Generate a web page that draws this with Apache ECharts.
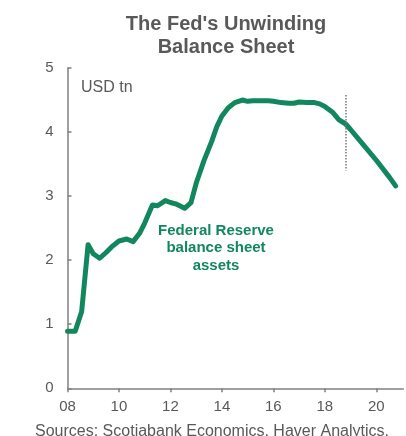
<!DOCTYPE html>
<html><head><meta charset="utf-8">
<script src="https://cdn.jsdelivr.net/npm/echarts@6/dist/echarts.min.js"></script>
<style>html,body{margin:0;padding:0;background:#fff}#c{width:406px;height:436px}</style>
</head><body><div id="c"></div>
<script>
const years = [2008.0,2008.3,2008.55,2008.8,2009.0,2009.25,2009.5,2009.75,2010.0,2010.3,2010.55,2010.8,2011.0,2011.3,2011.5,2011.8,2012.0,2012.2,2012.55,2012.8,2013.0,2013.3,2013.6,2013.8,2014.0,2014.25,2014.5,2014.8,2015.0,2015.2,2015.5,2015.8,2016.0,2016.3,2016.6,2016.8,2017.0,2017.3,2017.6,2017.8,2018.0,2018.3,2018.55,2018.8,2019.0,2019.5,2020.0,2020.5,2020.75];
const assets = [0.89,0.89,1.20,2.24,2.10,2.03,2.12,2.22,2.30,2.33,2.29,2.42,2.58,2.86,2.85,2.93,2.90,2.88,2.81,2.90,3.20,3.55,3.85,4.08,4.25,4.38,4.46,4.50,4.48,4.49,4.49,4.49,4.48,4.46,4.45,4.45,4.47,4.46,4.46,4.44,4.40,4.31,4.19,4.13,4.04,3.80,3.56,3.30,3.16];
const xTicks = [2008,2010,2012,2014,2016,2018,2020];
const yTicks = [0,1,2,3,4,5];
const markerYear = 2018.8;
const markerRange = [4.58, 3.40];

const chart = echarts.init(document.getElementById('c'));
const gray = '#595959';
chart.setOption({
  animation:false,
  textStyle:{fontFamily:'Liberation Sans, Arial, sans-serif'},
  title:[
    {text:"The Fed's Unwinding\nBalance Sheet", left:221, top:8, textAlign:'center',
     textStyle:{fontSize:20, fontWeight:'bold', color:gray, lineHeight:23}},
    {text:'USD tn', left:76, top:75, textStyle:{fontSize:16, fontWeight:'normal', color:gray}},
    {text:'Federal Reserve\nbalance sheet\nassets', left:211, top:217, textAlign:'center',
     textStyle:{fontSize:15, fontWeight:'bold', color:'#12875D', lineHeight:17.5}},
    {text:'Sources: Scotiabank Economics, Haver Analytics.', left:207, top:419, textAlign:'center',
     textStyle:{fontSize:16, fontWeight:'normal', color:gray}}
  ],
  grid:{left:67.5, right:2.7, top:68, bottom:47.7},
  xAxis:{type:'value', min:2008, max:2021.05, interval:2,
    axisLine:{lineStyle:{color:'#808080', width:1.5}},
    axisTick:{show:true, length:4, customValues:xTicks, lineStyle:{color:'#808080', width:1.5}},
    axisLabel:{customValues:xTicks, fontSize:15, color:gray, margin:11,
      formatter:v=>String(Math.round(v)%100).padStart(2,'0')},
    splitLine:{show:false}},
  yAxis:{type:'value', min:0, max:5, interval:1,
    axisLine:{show:true, lineStyle:{color:'#808080', width:1.5}},
    axisTick:{show:true, inside:true, length:4, customValues:yTicks, lineStyle:{color:'#808080', width:1.5}},
    axisLabel:{fontSize:15, color:gray, margin:14},
    splitLine:{show:false}},
  series:[{type:'line', data:years.map((y,i)=>[y,assets[i]]), showSymbol:false,
    lineStyle:{color:'#12875D', width:5, cap:'round', join:'round'},
    markLine:{symbol:'none', silent:true, label:{show:false},
      lineStyle:{color:'#777', type:[1.5,1.5], width:1.5},
      data:[[{coord:[markerYear, markerRange[0]]},{coord:[markerYear, markerRange[1]]}]]}
  }]
});
</script></body></html>
